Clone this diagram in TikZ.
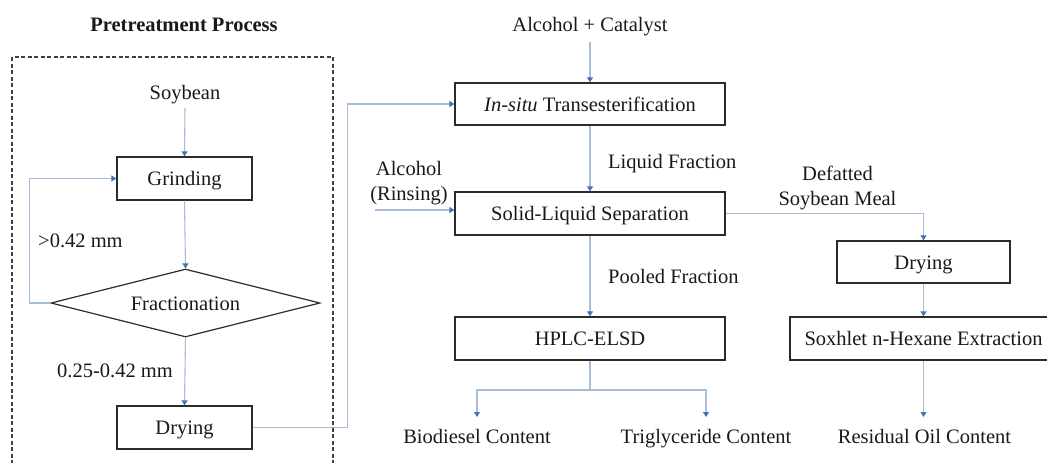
\documentclass[tikz,border=0pt]{standalone}
\usepackage{fontspec}
\setmainfont{Liberation Serif}
\usetikzlibrary{arrows.meta,shapes.geometric}
\definecolor{flow}{HTML}{A7BCD9}
\definecolor{tipblue}{HTML}{4A70B5}
\definecolor{edge}{HTML}{2B2B2B}
\begin{document}
\begin{tikzpicture}[x=1pt,y=-1pt,
  every node/.style={font=\fontsize{20.5}{25}\selectfont, text=black!90},
  stepbox/.style={draw=edge,line width=1.3pt,inner sep=0pt,text height=15pt,text depth=1pt,minimum height=43pt},
  decision/.style={diamond,draw=edge,line width=1.2pt,inner sep=0pt,minimum width=269pt,minimum height=68pt,aspect=3.96,text height=15pt,text depth=1pt},
  term/.style={inner sep=0pt,text height=14pt,text depth=4pt},
  note/.style={inner sep=0pt},
  flowline/.style={draw=flow,line width=1.1pt,-{Triangle[width=6pt,length=5pt,color=tipblue]}},
  wire/.style={draw=flow,line width=1.1pt}
]
\useasboundingbox (0,0) rectangle (1047,463);
\clip (0,0) rectangle (1047,463);

% ---- pretreatment block ----
\node[note,anchor=base,font=\bfseries\fontsize{20.5}{25}\selectfont] (title) at (184,31) {Pretreatment Process};
\draw[draw=black!75,line width=1.2pt,dash pattern=on 4pt off 2.5pt] (12,57) rectangle (333,490);

\node[term,anchor=base,outer ysep=5pt] (soy) at (185,99) {Soybean};
\node[stepbox,minimum width=135pt] (grind) at (184.5,178.5) {Grinding};
\node[decision] (frac) at (185.5,303) {Fractionation};
\node[stepbox,minimum width=135pt] (dry1) at (184.5,427.5) {Drying};
\node[note,anchor=base west] (coarse) at (38,247) {>0.42 mm};
\node[note,anchor=base west] (fine) at (57,377) {0.25-0.42 mm};

% ---- conversion and analysis ----
\node[term,anchor=base,outer ysep=6pt] (alc) at (590,31.5) {Alcohol + Catalyst};
\node[stepbox,minimum width=270pt,minimum height=42pt] (insitu) at (590,104) {\textit{In-situ} Transesterification};
\node[note,anchor=base west] (liq) at (608,168) {Liquid Fraction};
\node[stepbox,minimum width=270pt] (sls) at (590,213.5) {Solid-Liquid Separation};
\node[note,align=center] (rinse) at (409,183) {Alcohol\\(Rinsing)};
\coordinate (rin) at (375,210);
\node[note,anchor=base west] (pool) at (608,283) {Pooled Fraction};
\node[stepbox,minimum width=270pt] (hplc) at (590,338.5) {HPLC-ELSD};
\coordinate (split) at (590,390);
\node[term,anchor=base,outer ysep=12pt] (bio) at (477,443) {Biodiesel Content};
\node[term,anchor=base,outer ysep=12pt] (tri) at (706,443) {Triglyceride Content};

\node[note,align=center] (meal) at (837.5,188) {Defatted\\Soybean Meal};
\node[stepbox,minimum width=173pt,minimum height=42pt] (dry2) at (923.5,262) {Drying};
\node[stepbox,minimum width=267pt] (sox) at (923.5,338.5) {Soxhlet n-Hexane Extraction};
\node[term,anchor=base,outer ysep=12pt] (oil) at (924.5,443) {Residual Oil Content};

% ---- connectors ----
\draw[flowline] (soy.south) -- (grind.north);
\draw[flowline] (grind.south) -- (frac.north);
\draw[flowline] (frac.west) -- ++(-21,0) |- (grind.west);
\draw[flowline] (frac.south) -- (dry1.north);
\draw[flowline] (dry1.east) -- ++(95,0) |- (insitu.west);
\draw[flowline] (alc.south) -- (insitu.north);
\draw[flowline] (insitu.south) -- (sls.north);
\draw[flowline] (rin) -- (rin -| sls.west);
\draw[flowline] (sls.south) -- (hplc.north);
\draw[wire] (hplc.south) -- (split);
\draw[flowline] (split) -| (bio.north);
\draw[flowline] (split) -| (tri.north);
\draw[flowline] (sls.east) -| (dry2.north);
\draw[flowline] (dry2.south) -- (sox.north);
\draw[flowline] (sox.south) -- (sox.south |- oil.north);
\end{tikzpicture}
\end{document}
